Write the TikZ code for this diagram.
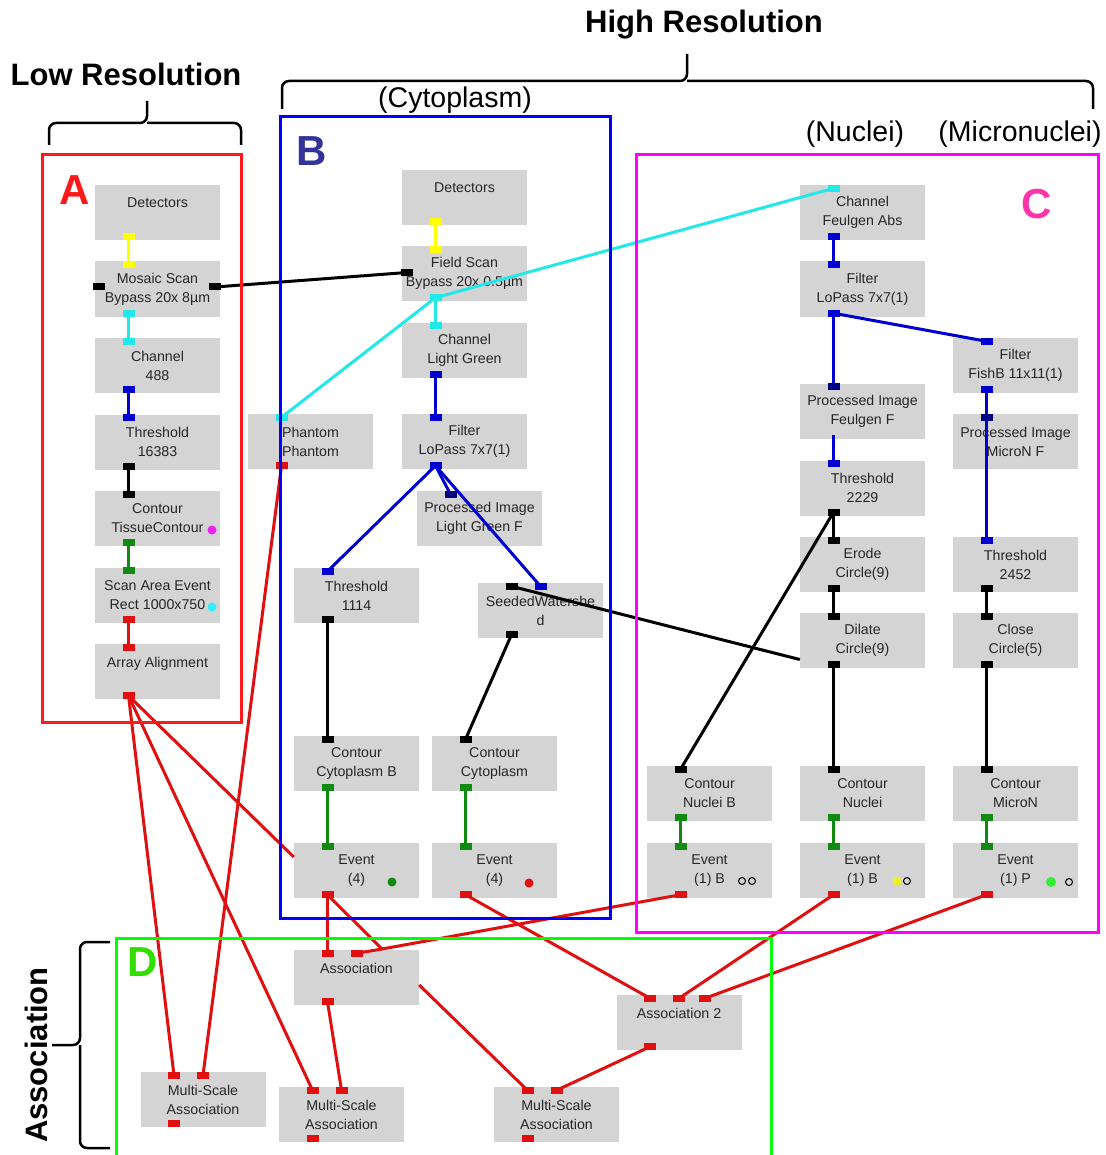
\documentclass[tikz,border=0pt]{standalone}
\usepackage{fontspec}
\setmainfont{Liberation Sans}
\usetikzlibrary{positioning}

\definecolor{boxgray}{HTML}{D4D4D4}
\definecolor{wyellow}{HTML}{FFFF00}
\definecolor{wcyan}{HTML}{22E8E8}
\definecolor{wblue}{HTML}{0000D0}
\definecolor{wnavy}{HTML}{000080}
\definecolor{wgreen}{HTML}{108A10}
\definecolor{wred}{HTML}{E01010}
\definecolor{tagblue}{HTML}{333399}
\definecolor{tagpink}{HTML}{FF33AA}
\definecolor{taggreen}{HTML}{33DD00}
\definecolor{framered}{HTML}{FF1A1A}
\definecolor{frameblue}{HTML}{0000FF}
\definecolor{framemag}{HTML}{FF00FF}
\definecolor{framegreen}{HTML}{00FF00}
\definecolor{dotmag}{HTML}{EE22EE}
\definecolor{dotcyan}{HTML}{33EEFF}
\definecolor{dotyellow}{HTML}{EEEE22}
\definecolor{dotgreen}{HTML}{33EE33}

\begin{document}
\begin{tikzpicture}[x=1pt,y=-1pt]

	\tikzstyle{block}=[fill=boxgray,text=black!85,
		minimum width=125pt,minimum height=55pt,inner sep=0pt,
		node distance=76.5pt,align=center,
		font=\fontsize{14.2}{19}\selectfont]
	\tikzstyle{wire}=[line width=3pt]
	\tikzstyle{frame}=[line width=3pt]
	\tikzstyle{bracket}=[line width=2.5pt,rounded corners=7pt]
	\tikzstyle{head}=[anchor=base,inner sep=0pt,
		font=\fontsize{31}{36}\selectfont\bfseries]
	\tikzstyle{sub}=[anchor=base,inner sep=0pt,
		font=\fontsize{28.5}{33}\selectfont]
	\tikzstyle{tag}=[font=\fontsize{42}{48}\selectfont\bfseries]

	\useasboundingbox (0,0) rectangle (1105,1155);

	% low resolution
	\node[block]			(a1) at (157.5,212.5) {Detectors\\~};
	\node[block,below of=a1]	(a2) {Mosaic Scan\\Bypass 20x 8µm};
	\node[block,below of=a2]	(a3) {Channel\\488};
	\node[block,below of=a3]	(a4) {Threshold\\16383};
	\node[block,below of=a4]	(a5) {Contour\\TissueContour};
	\node[block,below of=a5]	(a6) {Scan Area Event\\Rect 1000x750};
	\node[block,below of=a6]	(a7) {Array Alignment\\~};

	% cytoplasm
	\node[block]	(b1)	at (464.5,197.5) {Detectors\\~};
	\node[block]	(b2)	at (464.5,273.5) {Field Scan\\Bypass 20x 0.5µm};
	\node[block]	(b3)	at (464.5,350)   {Channel\\Light Green};
	\node[block]	(b4)	at (464.5,441.5) {Filter\\LoPass 7x7(1)};
	\node[block]	(b5)	at (310.5,441.5) {Phantom\\Phantom};
	\node[block]	(b6)	at (479.5,518.5) {Processed Image\\Light Green F};
	\node[block]	(b7)	at (356.5,595.5) {Threshold\\1114};
	\node[block]	(b8)	at (540.5,610.5) {SeededWatershe\\d};
	\node[block]	(b9)	at (356.5,763.5) {Contour\\Cytoplasm B};
	\node[block]	(b10)	at (494.5,763.5) {Contour\\Cytoplasm};
	\node[block]	(b11)	at (356.5,870.5) {Event\\(4)};
	\node[block]	(b12)	at (494.5,870.5) {Event\\(4)};

	% nuclei and micronuclei
	\node[block]	(c1)	at (862.5,212.5)  {Channel\\Feulgen Abs};
	\node[block]	(c2)	at (862.5,289)    {Filter\\LoPass 7x7(1)};
	\node[block]	(c3)	at (1015.5,365.5) {Filter\\FishB 11x11(1)};
	\node[block]	(c4)	at (862.5,411)    {Processed Image\\Feulgen F};
	\node[block]	(c5)	at (1015.5,441.5) {Processed Image\\MicroN F};
	\node[block]	(c6)	at (862.5,488)    {Threshold\\2229};
	\node[block]	(c7)	at (862.5,564.5)  {Erode\\Circle(9)};
	\node[block]	(c8)	at (1015.5,564.5) {Threshold\\2452};
	\node[block]	(c9)	at (862.5,640.5)  {Dilate\\Circle(9)};
	\node[block]	(c10)	at (1015.5,640.5) {Close\\Circle(5)};
	\node[block]	(c11)	at (709.5,793.5)  {Contour\\Nuclei B};
	\node[block]	(c12)	at (862.5,793.5)  {Contour\\Nuclei};
	\node[block]	(c13)	at (1015.5,793.5) {Contour\\MicroN};
	\node[block]	(c14)	at (709.5,870.5)  {Event\\(1) B};
	\node[block]	(c15)	at (862.5,870.5)  {Event\\(1) B};
	\node[block]	(c16)	at (1015.5,870.5) {Event\\(1) P};

	% association
	\node[block]	(d1)	at (356.5,977.5)  {Association\\~};
	\node[block]	(d2)	at (679,1022.5)   {Association 2\\~};
	\node[block]	(d3)	at (203,1099.5)   {Multi-Scale\\Association};
	\node[block]	(d4)	at (341.5,1114.5) {Multi-Scale\\Association};
	\node[block]	(d5)	at (556.5,1114.5) {Multi-Scale\\Association};

	% ports
	\foreach \g/\k in {a/7,b/12,c/16,d/5}
		\foreach \i in {1,...,\k} {
			\coordinate (\g\i-in)  at ([xshift=-29pt,yshift=-3.5pt]\g\i.north);
			\coordinate (\g\i-out) at ([xshift=-29pt,yshift=3.5pt]\g\i.south);
		}
	\coordinate (a2-l)   at ([xshift=4.5pt,yshift=2pt]a2.west);
	\coordinate (a2-r)   at ([xshift=-5pt,yshift=2pt]a2.east);
	\coordinate (b2-l)   at ([xshift=5pt,yshift=1pt]b2.west);
	\coordinate (b8-top) at ([yshift=-3.5pt]b8.north);
	\coordinate (c9-w)   at ([yshift=-19pt]c9.west);
	\coordinate (b11-w)  at ([yshift=13.5pt]b11.west);
	\coordinate (d1-in2) at ([yshift=-3.5pt]d1.north);
	\coordinate (d1-e)   at ([yshift=-7.5pt]d1.east);
	\coordinate (d2-in2) at ([yshift=-3.5pt]d2.north);
	\coordinate (d2-in3) at ([xshift=26pt,yshift=-3.5pt]d2.north);
	\coordinate (d3-in2) at ([yshift=-3.5pt]d3.north);
	\coordinate (d4-in2) at ([yshift=-3.5pt]d4.north);
	\coordinate (d5-in2) at ([yshift=-3.5pt]d5.north);
	\coordinate (jn)     at (382,949);

	% low resolution chain
	\draw[wire,wyellow]	(a1-out) -- (a2-in);
	\draw[wire,wcyan]	(a2-out) -- (a3-in);
	\draw[wire,wblue]	(a3-out) -- (a4-in);
	\draw[wire]		(a4-out) -- (a5-in);
	\draw[wire,wgreen]	(a5-out) -- (a6-in);
	\draw[wire,wred]	(a6-out) -- (a7-in);
	\draw[wire]		(a2-r) -- (b2-l);

	% cytoplasm chain
	\draw[wire,wyellow]	(b1-out) -- (b2-in);
	\draw[wire,wcyan]	(b2-out) -- (b3-in);
	\draw[wire,wcyan]	(b5-in) -- (b2-out) -- (c1-in);
	\draw[wire,wblue]	(b3-out) -- (b4-in);
	\draw[wire,wblue]	(b4-out) -- (b7-in);
	\draw[wire,wblue]	(b4-out) -- (b6-in);
	\draw[wire,wblue]	(b4-out) -- (b8-top);
	\draw[wire]		(b8-in) -- (c9-w);
	\draw[wire]		(b7-out) -- (b9-in);
	\draw[wire]		(b8-out) -- (b10-in);
	\draw[wire,wgreen]	(b9-out) -- (b11-in);
	\draw[wire,wgreen]	(b10-out) -- (b12-in);

	% nuclei chain
	\draw[wire,wblue]	(c1-out) -- (c2-in);
	\draw[wire,wblue]	(c2-out) -- (c4-in);
	\draw[wire,wblue]	(c2-out) -- (c3-in);
	\draw[wire,wblue]	(c4-out) -- (c6-in);
	\draw[wire,wblue]	(c3-out) -- (c8-in);
	\draw[wire]		(c6-out) -- (c7-in);
	\draw[wire]		(c6-out) -- (c11-in);
	\draw[wire]		(c7-out) -- (c9-in);
	\draw[wire]		(c8-out) -- (c10-in);
	\draw[wire]		(c9-out) -- (c12-in);
	\draw[wire]		(c10-out) -- (c13-in);
	\draw[wire,wgreen]	(c11-out) -- (c14-in);
	\draw[wire,wgreen]	(c12-out) -- (c15-in);
	\draw[wire,wgreen]	(c13-out) -- (c16-in);

	% association links
	\draw[wire,wred]	(a7-out) -- (b11-w);
	\draw[wire,wred]	(a7-out) -- (d3-in);
	\draw[wire,wred]	(a7-out) -- (d4-in);
	\draw[wire,wred]	(b5-out) -- (d3-in2);
	\draw[wire,wred]	(b11-out) -- (d1-in);
	\draw[wire,wred]	(b11-out) -- (jn);
	\draw[wire,wred]	(c14-out) -- (jn) -- (d1-in2);
	\draw[wire,wred]	(b12-out) -- (d2-in);
	\draw[wire,wred]	(c15-out) -- (d2-in2);
	\draw[wire,wred]	(c16-out) -- (d2-in3);
	\draw[wire,wred]	(d1-out) -- (d4-in2);
	\draw[wire,wred]	(d1-e) -- (d5-in);
	\draw[wire,wred]	(d2-out) -- (d5-in2);

	\foreach \p/\c in {a1-out/wyellow,a2-in/wyellow,b1-out/wyellow,b2-in/wyellow,
		a2-out/wcyan,a3-in/wcyan,b2-out/wcyan,b3-in/wcyan,b5-in/wcyan,c1-in/wcyan,
		a3-out/wblue,a4-in/wblue,b3-out/wblue,b4-in/wblue,b4-out/wblue,b7-in/wblue,
		b8-top/wblue,c1-out/wblue,c2-in/wblue,c2-out/wblue,c3-in/wblue,c3-out/wblue,
		c6-in/wblue,c8-in/wblue,b6-in/wnavy,c4-in/wnavy,c5-in/wnavy,
		a4-out/black,a5-in/black,a2-l/black,a2-r/black,b2-l/black,b7-out/black,
		b8-in/black,b8-out/black,b9-in/black,b10-in/black,c6-out/black,c7-in/black,
		c7-out/black,c9-in/black,c8-out/black,c10-in/black,c9-out/black,
		c12-in/black,c10-out/black,c13-in/black,c11-in/black,
		a5-out/wgreen,a6-in/wgreen,b9-out/wgreen,b11-in/wgreen,b10-out/wgreen,
		b12-in/wgreen,c11-out/wgreen,c14-in/wgreen,c12-out/wgreen,c15-in/wgreen,
		c13-out/wgreen,c16-in/wgreen,
		a6-out/wred,a7-in/wred,a7-out/wred,b5-out/wred,b11-out/wred,b12-out/wred,
		c14-out/wred,c15-out/wred,c16-out/wred,d1-in/wred,d1-in2/wred,d1-out/wred,
		d2-in/wred,d2-in2/wred,d2-in3/wred,d2-out/wred,d3-in/wred,d3-in2/wred,
		d3-out/wred,d4-in/wred,d4-in2/wred,d4-out/wred,d5-in/wred,d5-in2/wred,
		d5-out/wred}
		\fill[\c] (\p) +(-6,-3.5) rectangle +(6,3.5);

	% markers
	\fill[dotmag]		(212,530) circle (4.5pt);
	\fill[dotcyan]		(212,607) circle (4.5pt);
	\fill[wgreen]		(392,882) circle (4.5pt);
	\fill[wred]		(529,883) circle (4.5pt);
	\draw[line width=1pt]	(742,881) circle (3.5pt) (752,881) circle (3.5pt);
	\fill[dotyellow]	(897,881) circle (4.5pt);
	\draw[line width=1pt]	(907,881) circle (3.5pt);
	\fill[dotgreen]		(1051,882) circle (5pt);
	\draw[line width=1pt]	(1069,882) circle (3.5pt);

	% frames
	\draw[frame,framered]	(42,155) rectangle (241,722);
	\draw[frame,frameblue]	(280,117) rectangle (610,918);
	\draw[frame,framemag]	(636,155) rectangle (1098,932);
	\draw[frame,framegreen]	(116,1155) |- (771,938) -- (771,1155);

	\node[tag,text=framered]	(tA) at (75,190)   {A};
	\node[tag,text=tagblue]		(tB) at (312,151)  {B};
	\node[tag,text=tagpink]		(tC) at (1037,204) {C};
	\node[tag,text=taggreen]	(tD) at (143,962)  {D};

	% brackets and titles
	\draw[bracket] (49,145) |- (147,123) -- (147,101);
	\draw[bracket] (241,145) |- (147,123);
	\draw[bracket] (282,109) |- (687,81) -- (687,54);
	\draw[bracket] (1093,109) |- (687,81);
	\draw[bracket] (110,942) -| (80,1045) -- (52,1045);
	\draw[bracket] (110,1148) -| (80,1045);

	\node[head]		(low)	at (126,86)  {Low Resolution};
	\node[head]		(high)	at (704,33)  {High Resolution};
	\node[head,rotate=90]	(asc)	at (47,1055) {Association};
	\node[sub]		(cyto)	at (455,108) {(Cytoplasm)};
	\node[sub]		(nuc)	at (855,142) {(Nuclei)};
	\node[sub]		(mic)	at (1020,142) {(Micronuclei)};

\end{tikzpicture}
\end{document}
